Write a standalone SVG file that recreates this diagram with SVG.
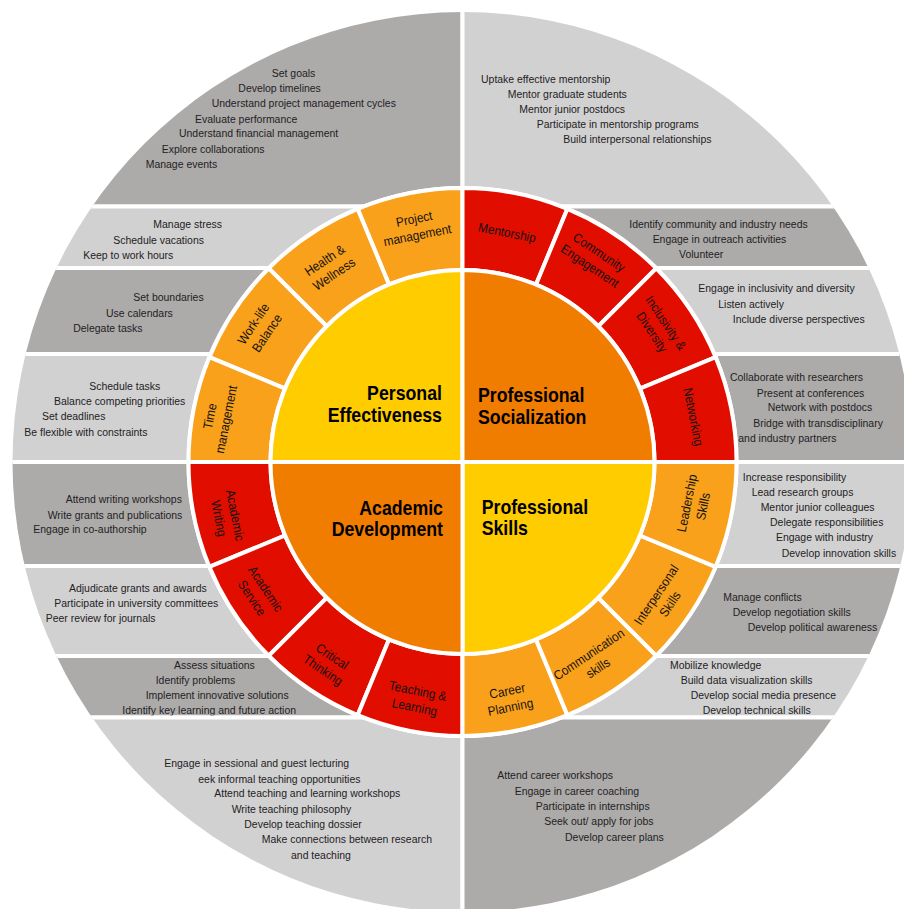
<svg xmlns="http://www.w3.org/2000/svg" width="904" height="909" viewBox="0 0 904 909">
<style>
.dk{fill:#ADAAAA;stroke:#fff;stroke-width:4}
.lt{fill:#D2D1D2;stroke:#fff;stroke-width:4}
.seg{stroke:#fff;stroke-width:4}
.or{fill:#F9A11B}
.rd{fill:#E10E00}
.ye{fill:#FFCC00}
.oc{fill:#F17D00}
.t{font-family:"Liberation Sans",Arial,sans-serif;font-size:11.5px;fill:#222}
.rl{font-family:"Liberation Sans",Arial,sans-serif;font-size:13px;fill:#111;text-anchor:middle}
.ti{font-family:"Liberation Sans",Arial,sans-serif;font-size:19.5px;font-weight:bold;fill:#000}
</style>
<defs>
<clipPath id="outer"><circle cx="462.5" cy="462" r="450"/></clipPath>
</defs>
<rect width="904" height="909" fill="#fff"/>

<g id="bands" clip-path="url(#outer)">
 <g id="band-project">
  <rect class="dk" x="-10" y="-10" width="472.5" height="216.5"/>
  <g transform="scale(0.91 1)" class="t">
   <text x="298.6" y="77">Set goals</text>
   <text x="261.9" y="92.3">Develop timelines</text>
   <text x="232.6" y="107.3">Understand project management cycles</text>
   <text x="214.3" y="122.7">Evaluate performance</text>
   <text x="196.7" y="137.5">Understand financial management</text>
   <text x="177.7" y="152.7">Explore collaborations</text>
   <text x="160.1" y="168">Manage events</text>
  </g>
 </g>
 <g id="band-health">
  <rect class="lt" x="-10" y="206.5" width="472.5" height="61.5"/>
  <g transform="scale(0.91 1)" class="t">
   <text x="168.5" y="227.7">Manage stress</text>
   <text x="124.5" y="243.7">Schedule vacations</text>
   <text x="91.5" y="258.7">Keep to work hours</text>
  </g>
 </g>
 <g id="band-worklife">
  <rect class="dk" x="-10" y="268" width="472.5" height="86"/>
  <g transform="scale(0.91 1)" class="t">
   <text x="146.5" y="300.7">Set boundaries</text>
   <text x="116.5" y="316.7">Use calendars</text>
   <text x="80.5" y="331.7">Delegate tasks</text>
  </g>
 </g>
 <g id="band-time">
  <rect class="lt" x="-10" y="354" width="472.5" height="108"/>
  <g transform="scale(0.91 1)" class="t">
   <text x="98.1" y="390">Schedule tasks</text>
   <text x="59.3" y="405.3">Balance competing priorities</text>
   <text x="46.2" y="420">Set deadlines</text>
   <text x="26.7" y="435.7">Be flexible with constraints</text>
  </g>
 </g>
 <g id="band-writing">
  <rect class="dk" x="-10" y="462" width="472.5" height="104"/>
  <g transform="scale(0.91 1)" class="t">
   <text x="72.2" y="503.3">Attend writing workshops</text>
   <text x="52.4" y="518.7">Write grants and publications</text>
   <text x="36.6" y="533.3">Engage in co-authorship</text>
  </g>
 </g>
 <g id="band-service">
  <rect class="lt" x="-10" y="566" width="472.5" height="90"/>
  <g transform="scale(0.91 1)" class="t">
   <text x="75.8" y="592">Adjudicate grants and awards</text>
   <text x="59.7" y="607.3">Participate in university committees</text>
   <text x="50.2" y="622.3">Peer review for journals</text>
  </g>
 </g>
 <g id="band-critical">
  <rect class="dk" x="-10" y="656" width="472.5" height="61.5"/>
  <g transform="scale(0.91 1)" class="t">
   <text x="191.2" y="669">Assess situations</text>
   <text x="171.1" y="684">Identify problems</text>
   <text x="160.1" y="699">Implement innovative solutions</text>
   <text x="134.4" y="714.3">Identify key learning and future action</text>
  </g>
 </g>
 <g id="band-teaching">
  <rect class="lt" x="-10" y="717.5" width="472.5" height="210"/>
  <g transform="scale(0.91 1)" class="t">
   <text x="180.5" y="767.3">Engage in sessional and guest lecturing</text>
   <text x="217.9" y="782.7">eek informal teaching opportunities</text>
   <text x="235.5" y="797.3">Attend teaching and learning workshops</text>
   <text x="254.6" y="812.7">Write teaching philosophy</text>
   <text x="268.5" y="828.3">Develop teaching dossier</text>
   <text x="287.6" y="843.3">Make connections between research</text>
   <text x="319.8" y="859">and teaching</text>
  </g>
 </g>

 <g id="band-mentorship">
  <rect class="lt" x="462.5" y="-10" width="460" height="216.5"/>
  <g transform="scale(0.91 1)" class="t">
   <text x="528.6" y="83">Uptake effective mentorship</text>
   <text x="557.9" y="98.3">Mentor graduate students</text>
   <text x="570.7" y="113">Mentor junior postdocs</text>
   <text x="589.8" y="128.3">Participate in mentorship programs</text>
   <text x="619" y="143.3">Build interpersonal relationships</text>
  </g>
 </g>
 <g id="band-community">
  <rect class="dk" x="462.5" y="206.5" width="460" height="61.5"/>
  <g transform="scale(0.91 1)" class="t">
   <text x="691.5" y="227.7">Identify community and industry needs</text>
   <text x="717.2" y="243">Engage in outreach activities</text>
   <text x="746.2" y="258.3">Volunteer</text>
  </g>
 </g>
 <g id="band-inclusivity">
  <rect class="lt" x="462.5" y="268" width="460" height="86"/>
  <g transform="scale(0.91 1)" class="t">
   <text x="767.4" y="292.3">Engage in inclusivity and diversity</text>
   <text x="789.3" y="308">Listen actively</text>
   <text x="805.2" y="323">Include diverse perspectives</text>
  </g>
 </g>
 <g id="band-networking">
  <rect class="dk" x="462.5" y="354" width="460" height="108"/>
  <g transform="scale(0.91 1)" class="t">
   <text x="802.2" y="381.3">Collaborate with researchers</text>
   <text x="831.5" y="396.7">Present at conferences</text>
   <text x="843.6" y="411.3">Network with postdocs</text>
   <text x="827.8" y="426.7">Bridge with transdisciplinary</text>
   <text x="811.3" y="442">and industry partners</text>
  </g>
 </g>
 <g id="band-leadership">
  <rect class="lt" x="462.5" y="462" width="460" height="104"/>
  <g transform="scale(0.91 1)" class="t">
   <text x="816.2" y="480.7">Increase responsibility</text>
   <text x="826" y="496">Lead research groups</text>
   <text x="835.9" y="511">Mentor junior colleagues</text>
   <text x="846.2" y="526">Delegate responsibilities</text>
   <text x="852.7" y="541.3">Engage with industry</text>
   <text x="859" y="556.7">Develop innovation skills</text>
  </g>
 </g>
 <g id="band-interpersonal">
  <rect class="dk" x="462.5" y="566" width="460" height="90"/>
  <g transform="scale(0.91 1)" class="t">
   <text x="794.8" y="600.7">Manage conflicts</text>
   <text x="805.2" y="616">Develop negotiation skills</text>
   <text x="821.6" y="631.3">Develop political awareness</text>
  </g>
 </g>
 <g id="band-communication">
  <rect class="lt" x="462.5" y="656" width="460" height="61.5"/>
  <g transform="scale(0.91 1)" class="t">
   <text x="736.3" y="669">Mobilize knowledge</text>
   <text x="748" y="684">Build data visualization skills</text>
   <text x="759" y="699">Develop social media presence</text>
   <text x="772.2" y="714.3">Develop technical skills</text>
  </g>
 </g>
 <g id="band-career">
  <rect class="dk" x="462.5" y="717.5" width="460" height="210"/>
  <g transform="scale(0.91 1)" class="t">
   <text x="546.5" y="779.3">Attend career workshops</text>
   <text x="565.6" y="794.7">Engage in career coaching</text>
   <text x="588.7" y="810">Participate in internships</text>
   <text x="598.1" y="825.3">Seek out/ apply for jobs</text>
   <text x="620.9" y="840.7">Develop career plans</text>
  </g>
 </g>
</g>

<circle cx="462.5" cy="462" r="276" fill="#fff"/>

<g id="ring">
 <g id="seg-project">
  <path class="seg or" d="M462.5,188 A274,274 0 0 0 357.65,208.86 L389.03,284.62 A192,192 0 0 1 462.5,270 Z"/>
  <g transform="translate(416,228) rotate(-11.25)"><text class="rl" transform="scale(0.91 1)"><tspan x="0" y="-4.8">Project</tspan><tspan x="0" y="11.7">management</tspan></text></g>
 </g>
 <g id="seg-health">
  <path class="seg or" d="M357.65,208.86 A274,274 0 0 0 268.75,268.25 L326.74,326.24 A192,192 0 0 1 389.03,284.62 Z"/>
  <g transform="translate(330,268) rotate(-33.75)"><text class="rl" transform="scale(0.91 1)"><tspan x="0" y="-4.8">Health &amp;</tspan><tspan x="0" y="11.7">Wellness</tspan></text></g>
 </g>
 <g id="seg-worklife">
  <path class="seg or" d="M268.75,268.25 A274,274 0 0 0 209.36,357.15 L285.12,388.53 A192,192 0 0 1 326.74,326.24 Z"/>
  <g transform="translate(261,329) rotate(-56.25)"><text class="rl" transform="scale(0.91 1)"><tspan x="0" y="-4.8">Work-life</tspan><tspan x="0" y="11.7">Balance</tspan></text></g>
 </g>
 <g id="seg-time">
  <path class="seg or" d="M209.36,357.15 A274,274 0 0 0 188.5,462 L270.5,462 A192,192 0 0 1 285.12,388.53 Z"/>
  <g transform="translate(219,418) rotate(-78.75)"><text class="rl" transform="scale(0.91 1)"><tspan x="0" y="-4.8">Time</tspan><tspan x="0" y="11.7">management</tspan></text></g>
 </g>

 <g id="seg-mentorship">
  <path class="seg rd" d="M567.35,208.86 A274,274 0 0 0 462.5,188 L462.5,270 A192,192 0 0 1 535.98,284.62 Z"/>
  <g transform="translate(507,233) rotate(11.25)"><text class="rl" transform="scale(0.91 1)"><tspan x="0" y="4">Mentorship</tspan></text></g>
 </g>
 <g id="seg-community">
  <path class="seg rd" d="M656.25,268.25 A274,274 0 0 0 567.35,208.86 L535.98,284.62 A192,192 0 0 1 598.27,326.24 Z"/>
  <g transform="translate(594,260) rotate(33.75)"><text class="rl" transform="scale(0.91 1)"><tspan x="0" y="-4.8">Community</tspan><tspan x="0" y="11.7">Engagement</tspan></text></g>
 </g>
 <g id="seg-inclusivity">
  <path class="seg rd" d="M715.64,357.15 A274,274 0 0 0 656.25,268.25 L598.27,326.24 A192,192 0 0 1 639.89,388.53 Z"/>
  <g transform="translate(658,328) rotate(56.25)"><text class="rl" transform="scale(0.91 1)"><tspan x="0" y="-4.8">Inclusivity &amp;</tspan><tspan x="0" y="11.7">Diversity</tspan></text></g>
 </g>
 <g id="seg-networking">
  <path class="seg rd" d="M736.5,462 A274,274 0 0 0 715.64,357.15 L639.89,388.53 A192,192 0 0 1 654.5,462 Z"/>
  <g transform="translate(693,417) rotate(78.75)"><text class="rl" transform="scale(0.91 1)"><tspan x="0" y="4">Networking</tspan></text></g>
 </g>

 <g id="seg-writing">
  <path class="seg rd" d="M188.5,462 A274,274 0 0 0 209.36,566.85 L285.12,535.48 A192,192 0 0 1 270.5,462 Z"/>
  <g transform="translate(226,517) rotate(78.75)"><text class="rl" transform="scale(0.91 1)"><tspan x="0" y="-4.8">Academic</tspan><tspan x="0" y="11.7">Writing</tspan></text></g>
 </g>
 <g id="seg-service">
  <path class="seg rd" d="M209.36,566.85 A274,274 0 0 0 268.75,655.75 L326.74,597.77 A192,192 0 0 1 285.12,535.48 Z"/>
  <g transform="translate(258,594) rotate(56.25)"><text class="rl" transform="scale(0.91 1)"><tspan x="0" y="-4.8">Academic</tspan><tspan x="0" y="11.7">Service</tspan></text></g>
 </g>
 <g id="seg-critical">
  <path class="seg rd" d="M268.75,655.75 A274,274 0 0 0 357.65,715.14 L389.03,639.39 A192,192 0 0 1 326.74,597.77 Z"/>
  <g transform="translate(327,664) rotate(33.75)"><text class="rl" transform="scale(0.91 1)"><tspan x="0" y="-4.8">Critical</tspan><tspan x="0" y="11.7">Thinking</tspan></text></g>
 </g>
 <g id="seg-teaching">
  <path class="seg rd" d="M357.65,715.14 A274,274 0 0 0 462.5,736 L462.5,654 A192,192 0 0 1 389.03,639.39 Z"/>
  <g transform="translate(416,700) rotate(11.25)"><text class="rl" transform="scale(0.91 1)"><tspan x="0" y="-4.8">Teaching &amp;</tspan><tspan x="0" y="11.7">Learning</tspan></text></g>
 </g>

 <g id="seg-career">
  <path class="seg or" d="M462.5,736 A274,274 0 0 0 567.35,715.14 L535.98,639.39 A192,192 0 0 1 462.5,654 Z"/>
  <g transform="translate(509,700) rotate(-11.25)"><text class="rl" transform="scale(0.91 1)"><tspan x="0" y="-4.8">Career</tspan><tspan x="0" y="11.7">Planning</tspan></text></g>
 </g>
 <g id="seg-communication">
  <path class="seg or" d="M567.35,715.14 A274,274 0 0 0 656.25,655.75 L598.27,597.77 A192,192 0 0 1 535.98,639.39 Z"/>
  <g transform="translate(594,662) rotate(-33.75)"><text class="rl" transform="scale(0.91 1)"><tspan x="0" y="-4.8">Communication</tspan><tspan x="0" y="11.7">skills</tspan></text></g>
 </g>
 <g id="seg-interpersonal">
  <path class="seg or" d="M656.25,655.75 A274,274 0 0 0 715.64,566.85 L639.89,535.48 A192,192 0 0 1 598.27,597.77 Z"/>
  <g transform="translate(664,600) rotate(-56.25)"><text class="rl" transform="scale(0.91 1)"><tspan x="0" y="-4.8">Interpersonal</tspan><tspan x="0" y="11.7">Skills</tspan></text></g>
 </g>
 <g id="seg-leadership">
  <path class="seg or" d="M715.64,566.85 A274,274 0 0 0 736.5,462 L654.5,462 A192,192 0 0 1 639.89,535.48 Z"/>
  <g transform="translate(696,505) rotate(-78.75)"><text class="rl" transform="scale(0.91 1)"><tspan x="0" y="-4.8">Leadership</tspan><tspan x="0" y="11.7">Skills</tspan></text></g>
 </g>
</g>

<g id="core">
 <g id="personal-effectiveness">
  <path class="seg ye" d="M462.5,462 L270.5,462 A192,192 0 0 1 462.5,270 Z"/>
  <text class="ti" transform="scale(0.91 1)" text-anchor="end"><tspan x="485.7" y="400.5">Personal</tspan><tspan x="485.7" y="422.2">Effectiveness</tspan></text>
 </g>
 <g id="professional-socialization">
  <path class="seg oc" d="M462.5,462 L462.5,270 A192,192 0 0 1 654.5,462 Z"/>
  <text class="ti" transform="scale(0.91 1)"><tspan x="525.3" y="402.3">Professional</tspan><tspan x="525.3" y="424">Socialization</tspan></text>
 </g>
 <g id="professional-skills">
  <path class="seg ye" d="M462.5,462 L654.5,462 A192,192 0 0 1 462.5,654 Z"/>
  <text class="ti" transform="scale(0.91 1)"><tspan x="529.3" y="514">Professional</tspan><tspan x="529.3" y="535.5">Skills</tspan></text>
 </g>
 <g id="academic-development">
  <path class="seg oc" d="M462.5,462 L462.5,654 A192,192 0 0 1 270.5,462 Z"/>
  <text class="ti" transform="scale(0.91 1)" text-anchor="end"><tspan x="486.8" y="515">Academic</tspan><tspan x="486.8" y="535.7">Development</tspan></text>
 </g>
</g>
</svg>
